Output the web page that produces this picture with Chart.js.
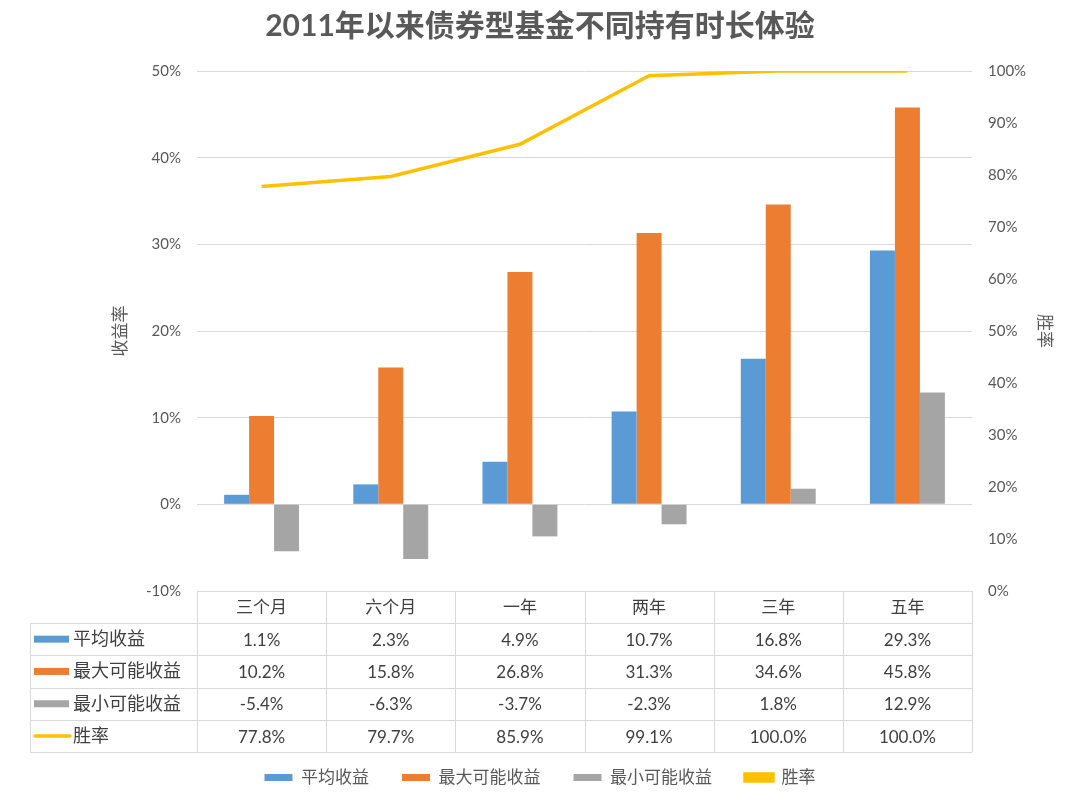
<!DOCTYPE html>
<html>
<head>
<meta charset="utf-8">
<script src="https://cdn.jsdelivr.net/npm/chart.js@4/dist/chart.umd.min.js"></script>
<style>
  html, body { margin: 0; padding: 0; background: #fff; }
  #wrap { width: 1080px; height: 801px; }
</style>
</head>
<body>
<div id="wrap"><canvas id="chart"></canvas></div>
<script>
const categories = ['三个月', '六个月', '一年', '两年', '三年', '五年'];
const avgReturn = [1.1, 2.3, 4.9, 10.7, 16.8, 29.3];
const maxReturn = [10.2, 15.8, 26.8, 31.3, 34.6, 45.8];
const minReturn = [-5.4, -6.3, -3.7, -2.3, 1.8, 12.9];
const winRate = [77.8, 79.7, 85.9, 99.1, 100.0, 100.0];

const FONT = "Lato, 'Noto Sans CJK SC', sans-serif";
const TEXT = '#595959';
const GRID = '#D9D9D9';

// draws the data table under the plot, reusing the x scale columns
const tablePlugin = {
    id: 'dataTable',
    afterDraw(chart) {
        const ctx = chart.ctx;
        const area = chart.chartArea;
        const xs = chart.scales.x;
        const colW = (area.right - area.left) / categories.length;
        const top = area.bottom;
        const headH = 32;
        const rowH = 32.3;
        const labelLeft = 30;
        const sets = chart.data.datasets;
        const bottom = top + headH + rowH * sets.length;

        ctx.save();
        ctx.strokeStyle = GRID;
        ctx.lineWidth = 1;
        ctx.beginPath();
        ctx.moveTo(area.left, top + 0.5);
        ctx.lineTo(area.right, top + 0.5);
        for (let r = 0; r <= sets.length; r++) {
            const y = Math.round(top + headH + rowH * r) + 0.5;
            ctx.moveTo(labelLeft, y);
            ctx.lineTo(area.right, y);
        }
        for (let c = 0; c <= categories.length; c++) {
            const x = Math.round(area.left + colW * c) + 0.5;
            ctx.moveTo(x, top);
            ctx.lineTo(x, bottom);
        }
        ctx.moveTo(labelLeft + 0.5, top + headH);
        ctx.lineTo(labelLeft + 0.5, bottom);
        ctx.stroke();

        ctx.textBaseline = 'middle';
        ctx.textAlign = 'center';
        ctx.fillStyle = '#404040';
        ctx.font = '17px ' + FONT;
        categories.forEach((c, i) => {
            ctx.fillText(c, xs.getPixelForValue(i), top + headH / 2 + 1);
        });

        sets.forEach((ds, r) => {
            const yc = top + headH + rowH * r + rowH / 2;
            // legend key
            if (ds.type === 'line') {
                ctx.strokeStyle = ds.borderColor;
                ctx.lineWidth = 3.5;
                ctx.lineCap = 'round';
                ctx.beginPath();
                ctx.moveTo(35, yc);
                ctx.lineTo(70, yc);
                ctx.stroke();
            } else {
                ctx.fillStyle = ds.backgroundColor;
                ctx.fillRect(34, yc - 3.5, 35, 7);
            }
            ctx.fillStyle = '#404040';
            ctx.textAlign = 'left';
            ctx.font = '18px ' + FONT;
            ctx.fillText(ds.label, 73, yc);
            ctx.textAlign = 'center';
            ctx.font = '17px ' + FONT;
            ds.data.forEach((v, i) => {
                ctx.fillText(v.toFixed(1) + '%', xs.getPixelForValue(i), yc + 1);
            });
        });
        ctx.restore();
    }
};

new Chart(document.getElementById('chart'), {
    type: 'bar',
    data: {
        labels: categories,
        datasets: [
            { label: '平均收益', data: avgReturn, backgroundColor: '#5B9BD5', yAxisID: 'y', order: 1 },
            { label: '最大可能收益', data: maxReturn, backgroundColor: '#ED7D31', yAxisID: 'y', order: 1 },
            { label: '最小可能收益', data: minReturn, backgroundColor: '#A5A5A5', yAxisID: 'y', order: 1 },
            {
                type: 'line', label: '胜率', data: winRate, yAxisID: 'y1', order: 0,
                borderColor: '#FFC000', backgroundColor: '#FFC000', borderWidth: 3.5,
                pointRadius: 0, tension: 0
            }
        ]
    },
    options: {
        responsive: true,
        maintainAspectRatio: false,
        animation: false,
        layout: { padding: { left: 0, right: 0, top: 0, bottom: 5 } },
        datasets: { bar: { categoryPercentage: 0.58, barPercentage: 1 } },
        plugins: {
            title: {
                display: true,
                text: '2011年以来债券型基金不同持有时长体验',
                color: TEXT,
                font: { family: FONT, size: 30, weight: 'bold' },
                padding: { top: 8, bottom: 27 }
            },
            legend: {
                position: 'bottom',
                labels: {
                    color: TEXT,
                    font: { family: FONT, size: 17 },
                    boxWidth: 28,
                    boxHeight: 7,
                    padding: 33,
                    sort: (a, b) => a.datasetIndex - b.datasetIndex
                }
            },
            tooltip: { enabled: false }
        },
        scales: {
            x: {
                ticks: { display: false },
                grid: { display: false },
                border: { display: false },
                afterFit: (axis) => { axis.height = 145; }
            },
            y: {
                position: 'left',
                min: -10,
                max: 50,
                ticks: {
                    stepSize: 10,
                    color: TEXT,
                    padding: 16,
                    font: { family: FONT, size: 15 },
                    callback: (v) => v + '%'
                },
                grid: { color: GRID, drawTicks: false },
                border: { display: false },
                title: {
                    display: true,
                    text: '收益率',
                    color: TEXT,
                    font: { family: FONT, size: 17 },
                    padding: { top: 110, bottom: 0 }
                },
                afterFit: (axis) => { axis.width = 197; }
            },
            y1: {
                position: 'right',
                min: 0,
                max: 100,
                ticks: {
                    stepSize: 10,
                    color: TEXT,
                    padding: 16,
                    font: { family: FONT, size: 15 },
                    callback: (v) => v + '%'
                },
                grid: { display: false, drawTicks: false },
                border: { display: false },
                title: {
                    display: true,
                    text: '胜率',
                    color: TEXT,
                    font: { family: FONT, size: 17 },
                    padding: { top: 25, bottom: 0 }
                },
                afterFit: (axis) => { axis.width = 108; }
            }
        }
    },
    plugins: [tablePlugin]
});
</script>
</body>
</html>
